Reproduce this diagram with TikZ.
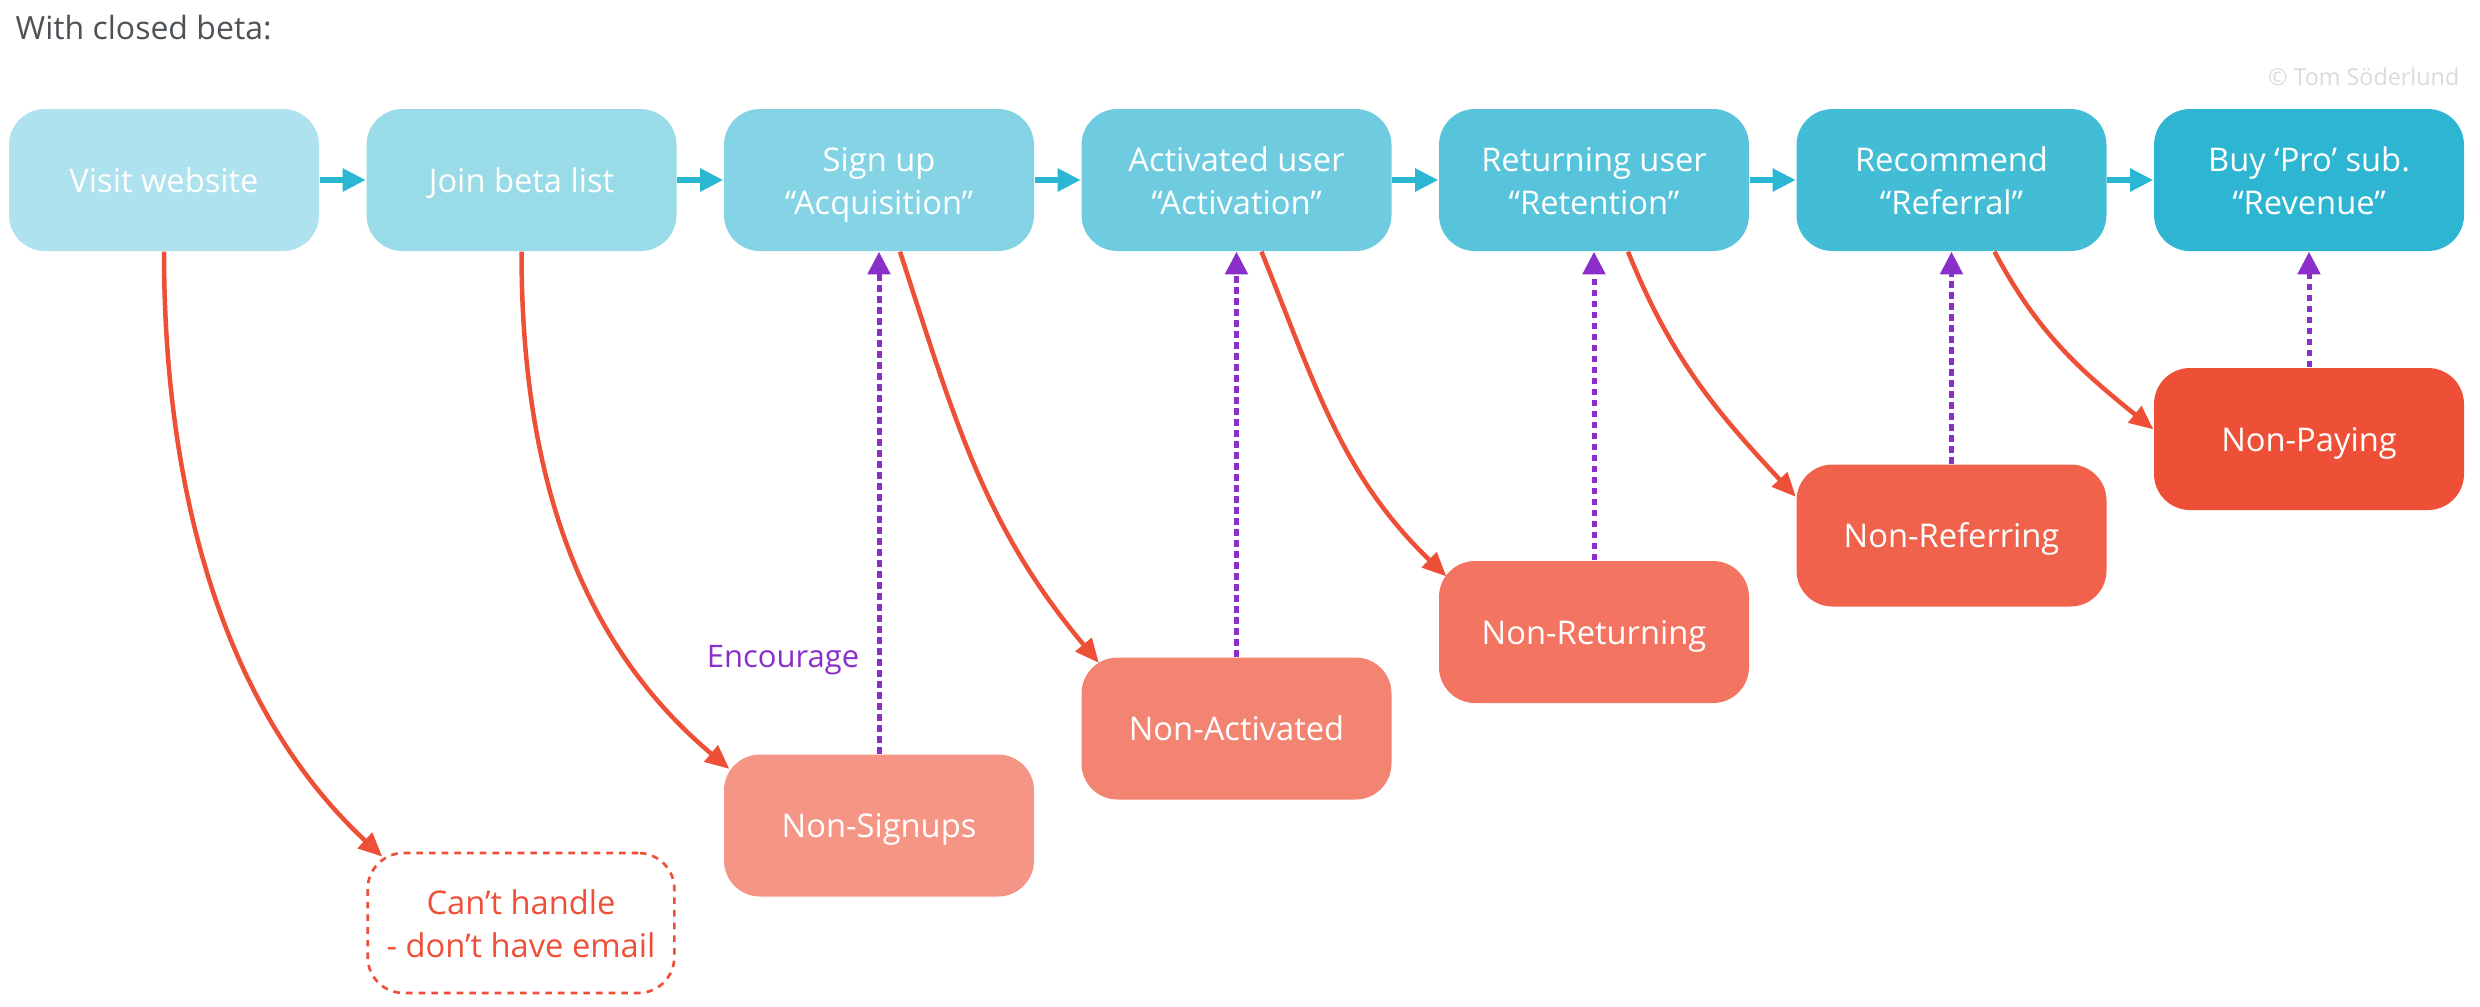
\documentclass[tikz,border=0pt]{standalone}
\usepackage{fontspec}
\setmainfont{Open Sans}
\usetikzlibrary{arrows.meta,calc}
\definecolor{tA}{HTML}{ADE2EE}
\definecolor{tB}{HTML}{9ADBE8}
\definecolor{tC}{HTML}{84D4E5}
\definecolor{tD}{HTML}{6FCCE0}
\definecolor{tE}{HTML}{58C4DB}
\definecolor{tF}{HTML}{43BDD6}
\definecolor{tG}{HTML}{2DB5D2}
\definecolor{rA}{HTML}{F59585}
\definecolor{rB}{HTML}{F48472}
\definecolor{rC}{HTML}{F37461}
\definecolor{rD}{HTML}{F0624B}
\definecolor{rE}{HTML}{EE4F37}
\definecolor{flowcol}{HTML}{2BB7D3}
\definecolor{redline}{HTML}{EE4F37}
\definecolor{purp}{HTML}{8B2FCB}
\definecolor{titlecol}{HTML}{4D5257}
\definecolor{copycol}{HTML}{DADADA}
\begin{document}
\begin{tikzpicture}[x=0.3pt,y=-0.3pt,
  boxstyle/.style={rounded corners=10.8pt, minimum width=93pt, minimum height=42.6pt,
    inner sep=0pt, text=white, align=center, font=\fontsize{9.8}{12.9}\selectfont},
  oneline/.style={text height=7.45pt, text depth=0pt},
  twoline/.style={text height=20.6pt, text depth=0pt},
  flowarrow/.style={draw=flowcol, line width=1.8pt, -{Triangle[length=7pt,width=6.6pt]}},
  droparrow/.style={draw=redline, line width=1.35pt, -{Triangle[length=7.2pt,width=6.2pt]}},
  encarrow/.style={draw=purp, line width=1.5pt, dash pattern=on 2pt off 1.3pt,
    -{Triangle[length=6.8pt,width=6.6pt]}},
]
\useasboundingbox (0,0) rectangle (2480,1006);

\node[anchor=base west, inner sep=0pt, text=titlecol, font=\fontsize{9.6}{11}\selectfont] (title) at (15,39) {With closed beta:};
\node[anchor=base east, inner sep=0pt, text=copycol, font=\fontsize{7}{8}\selectfont] (copy) at (2460,85) {© Tom Söderlund};

% top row
\node[boxstyle, oneline, fill=tA] (v1) at (164,180) {Visit website};
\node[boxstyle, oneline, fill=tB] (v2) at (521.5,180) {Join beta list};
\node[boxstyle, twoline, fill=tC] (v3) at (879,180) {Sign up\\“Acquisition”};
\node[boxstyle, twoline, fill=tD] (v4) at (1236.5,180) {Activated user\\“Activation”};
\node[boxstyle, twoline, fill=tE] (v5) at (1594,180) {Returning user\\“Retention”};
\node[boxstyle, twoline, fill=tF] (v6) at (1951.5,180) {Recommend\\“Referral”};
\node[boxstyle, twoline, fill=tG] (v7) at (2309,180) {Buy ‘Pro’ sub.\\“Revenue”};

% drop-off boxes
\node[boxstyle, twoline, draw=redline, line width=0.8pt, dash pattern=on 2pt off 1.8pt, text=redline,
  minimum width=92pt, minimum height=42pt] (cant) at (521,923) {Can’t handle\\- don’t have email};
\node[boxstyle, oneline, fill=rA] (ns) at (879,825.5) {Non-Signups};
\node[boxstyle, oneline, fill=rB] (na) at (1236.5,728.5) {Non-Activated};
\node[boxstyle, oneline, fill=rC] (nret) at (1594,632) {Non-Returning};
\node[boxstyle, oneline, fill=rD] (nref) at (1951.5,535.5) {Non-Referring};
\node[boxstyle, oneline, fill=rE] (np) at (2309,439) {Non-Paying};

% flow arrows
\draw[flowarrow] (v1.east) -- (v2.west);
\draw[flowarrow] (v2.east) -- (v3.west);
\draw[flowarrow] (v3.east) -- (v4.west);
\draw[flowarrow] (v4.east) -- (v5.west);
\draw[flowarrow] (v5.east) -- (v6.west);
\draw[flowarrow] (v6.east) -- (v7.west);

% drop-off curves
\draw[droparrow] (v1.south) to[out=-90,in=137,looseness=0.9] ($(cant.north west)+(16,5)$);
\draw[droparrow] (v2.south) to[out=-90,in=140,looseness=0.95] ($(ns.north west)+(6,15)$);
\draw[droparrow] ($(v3.south)+(21,0)$) to[out=-72,in=130] ($(na.north west)+(18,6)$);
\draw[droparrow] ($(v4.south)+(25,0)$) to[out=-68,in=136] ($(nret.north west)+(8,16)$);
\draw[droparrow] ($(v5.south)+(34,0)$) to[out=-68,in=133] ($(nref.north west)+(0,33)$);
\draw[droparrow] ($(v6.south)+(43,0)$) to[out=-62,in=141] ($(np.north west)+(0,62)$);

% encourage arrows
\draw[encarrow] (ns.north) -- (v3.south);
\draw[encarrow] (na.north) -- (v4.south);
\draw[encarrow] (nret.north) -- (v5.south);
\draw[encarrow] (nref.north) -- (v6.south);
\draw[encarrow] (np.north) -- (v7.south);
\node[anchor=base east, inner sep=0pt, text=purp, font=\fontsize{9.3}{11}\selectfont] (enc) at (860,667) {Encourage};
\end{tikzpicture}
\end{document}
